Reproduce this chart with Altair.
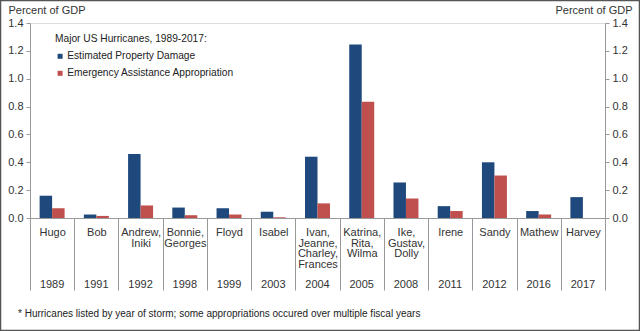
import altair as alt
import pandas as pd

names = ["Hugo", "Bob", "Andrew,|Iniki", "Bonnie,|Georges", "Floyd", "Isabel",
         "Ivan,|Jeanne,|Charley,|Frances", "Katrina,|Rita,|Wilma", "Ike,|Gustav,|Dolly",
         "Irene", "Sandy", "Mathew", "Harvey"]
years = ["1989", "1991", "1992", "1998", "1999", "2003", "2004", "2005", "2008",
         "2011", "2012", "2016", "2017"]
damage = [0.16, 0.025, 0.46, 0.075, 0.07, 0.045, 0.44, 1.245, 0.255, 0.085, 0.40, 0.05, 0.15]
approp = [0.07, 0.015, 0.09, 0.02, 0.025, 0.005, 0.105, 0.835, 0.14, 0.05, 0.305, 0.025, 0.0]
series = ["Estimated Property Damage", "Emergency Assistance Appropriation"]
colors = ["#1F497D", "#C0504D"]
footnote = "* Hurricanes listed by year of storm; some appropriations occured over multiple fiscal years"

keys = [n + "#" + y for n, y in zip(names, years)]

rows = []
for k, d, a in zip(keys, damage, approp):
    rows.append({"cat": k, "series": series[0], "value": d})
    rows.append({"cat": k, "series": series[1], "value": a})
df = pd.DataFrame(rows)

FONT = "Liberation Sans"
ydomain = [0, 1.4]
yvals = [0, 0.2, 0.4, 0.6, 0.8, 1.0, 1.2, 1.4]
xscale = alt.Scale(paddingInner=0, paddingOuter=0)

base = alt.Chart(df)

bars = base.mark_bar().encode(
    x=alt.X("cat:N", sort=keys, title=None, scale=xscale,
            axis=alt.Axis(orient="bottom",
                          labelExpr="isValid(datum.value) ? split(split(datum.value, '#')[0], '|') : ''",
                          labelAngle=0, tickBand="extent", tickSize=72, tickColor="#999",
                          domainColor="#999", labelPadding=-63.5,
                          labelLineHeight=10.6, labelFontSize=11,
                          labelColor="#333", labelFont=FONT, labelBaseline="top")),
    xOffset=alt.XOffset("series:N", sort=series,
                        scale=alt.Scale(domain=series, paddingOuter=0.77, paddingInner=0)),
    y=alt.Y("value:Q", scale=alt.Scale(domain=ydomain, nice=False),
            axis=alt.Axis(values=yvals, format=".1f", grid=False, tickSize=4,
                          tickColor="#999", domainColor="#999", labelFontSize=11,
                          labelColor="#333", labelFont=FONT, labelPadding=3,
                          title="Percent  of GDP", titleAngle=0, titleAlign="left",
                          titleBaseline="middle", titleX=-22, titleY=-13,
                          titleFontWeight="normal", titleFontSize=11,
                          titleColor="#333", titleFont=FONT)),
    color=alt.Color("series:N", scale=alt.Scale(domain=series, range=colors),
                    legend=alt.Legend(title="Major US Hurricanes,  1989-2017:",
                                      orient="none", legendX=25, legendY=11,
                                      titleFontWeight="normal", titleFontSize=10.2,
                                      titleColor="#222", titleFont=FONT,
                                      titlePadding=7, labelFontSize=10.2,
                                      labelColor="#222", labelFont=FONT,
                                      labelLimit=400,
                                      symbolType="square", symbolSize=25,
                                      symbolStrokeWidth=0, labelOffset=2,
                                      rowPadding=6)),
)

right = base.mark_tick(opacity=0).encode(
    x=alt.X("cat:N", sort=keys, title=None, scale=xscale,
            axis=alt.Axis(orient="bottom",
                          labelExpr="isValid(datum.value) ? split(datum.value, '#')[1] : ''",
                          labelAngle=0, ticks=False, domain=False, labelPadding=60.5,
                          labelFontSize=11, labelColor="#333", labelFont=FONT,
                          labelBaseline="top")),
    y=alt.Y("value:Q", scale=alt.Scale(domain=ydomain, nice=False),
            axis=alt.Axis(orient="right", values=yvals, format=".1f", grid=False,
                          tickSize=4, tickColor="#999", domainColor="#999",
                          labelFontSize=11, labelColor="#333", labelFont=FONT,
                          labelPadding=3,
                          title="Percent  of GDP", titleAngle=0, titleAlign="right",
                          titleBaseline="middle", titleX=27, titleY=-13,
                          titleFontWeight="normal", titleFontSize=11,
                          titleColor="#333", titleFont=FONT)),
)

note = alt.Chart(pd.DataFrame({"t": [footnote]})).mark_text(
    align="left", baseline="middle", fontSize=10, font=FONT, color="#222"
).encode(text="t:N", x=alt.value(-12), y=alt.value(291))

frame = alt.Chart(pd.DataFrame({"t": [0]})).mark_rect(
    fill=None, stroke="#555", strokeWidth=1.5
).encode(x=alt.value(-29.5), x2=alt.value(609.5), y=alt.value(-22.5), y2=alt.value(307.5))

chart = alt.layer(bars, right, note, frame).resolve_scale(
    y="independent"
).resolve_axis(x="independent").properties(
    width=575, height=195,
    padding={"left": 30, "top": 23, "right": 35, "bottom": 113},
    autosize=alt.AutoSizeParams(type="none"),
).configure_view(stroke="#999").configure(background="white")

chart.save("out.html", embed_options={"renderer": "svg", "actions": False})
